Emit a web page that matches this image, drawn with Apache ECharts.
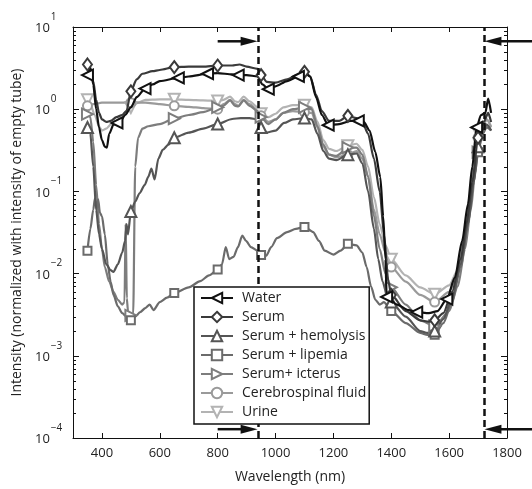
<!DOCTYPE html>
<html><head><meta charset="utf-8">
<script src="https://cdn.jsdelivr.net/npm/echarts@6/dist/echarts.min.js"></script>
<style>html,body{margin:0;padding:0;background:#fff}#c{width:532px;height:489px}</style>
</head><body><div id="c"></div>
<script>
// ---------- axis ticks ----------
const xTicks = [400, 600, 800, 1000, 1200, 1400, 1600, 1800];
const yMajor = [1e-4, 1e-3, 1e-2, 1e-1, 1, 10];
const yMinor = [];
for (let d = -4; d <= 0; d++) for (let m = 2; m <= 9; m++) yMinor.push(m * Math.pow(10, d));

// ---------- annotations ----------
const bandEdges = [940, 1720];
// [xStart, y, xEnd]
const arrows = [[800, 6.7, 938], [1900, 6.7, 1722], [800, 1.28e-4, 938], [1900, 1.28e-4, 1722]];

// ---------- series ----------
const legendNames = ['Water', 'Serum', 'Serum + hemolysis', 'Serum + lipemia', 'Serum+ icterus', 'Cerebrospinal fluid', 'Urine'];

const waterNm = [350,360,370,380,390,400,410,417,425,440,452,465,480,500,520,549,575,600,664,700,765,800,850,871,900,938,955,975,1000,1040,1079,1105,1120,1140,1160,1182,1220,1260,1286,1305,1325,1345,1362,1372,1380,1384,1420,1460,1488,1530,1560,1592,1620,1645,1665,1680,1695,1710,1725,1735,1745];
const waterVal = [2.6,3.2,2.0,1.0,0.6,0.42,0.35,0.34,0.5,0.65,0.68,0.72,0.85,1.05,1.4,1.78,2.0,2.2,2.4,2.5,2.7,2.75,2.65,2.6,2.6,2.5,2.0,1.75,1.9,2.2,2.5,2.7,2.5,1.4,0.85,0.64,0.66,0.72,0.72,0.7,0.55,0.3,0.15,0.05,0.015,0.0052,0.0042,0.0036,0.0034,0.0033,0.0035,0.0049,0.009,0.025,0.07,0.2,0.6,0.85,0.9,1.35,0.9];
const waterMarks = [350,452,549,664,765,871,975,1079,1182,1286,1384,1488,1592,1695];

const serumNm = [350,360,370,380,390,400,415,430,450,470,485,500,520,540,575,600,650,700,750,800,850,875,900,938,950,970,1000,1040,1075,1100,1120,1140,1160,1185,1220,1250,1280,1300,1320,1340,1360,1375,1390,1400,1450,1500,1530,1550,1580,1610,1640,1660,1680,1700,1720,1735,1745];
const serumVal = [3.5,3.1,2.2,1.3,0.9,0.75,0.7,0.72,0.8,0.85,0.95,1.65,2.3,2.7,2.9,3.0,3.25,3.3,3.3,3.4,3.4,3.5,3.3,3.1,2.6,2.15,2.1,2.3,2.6,2.85,2.5,1.5,0.95,0.72,0.72,0.83,0.78,0.7,0.5,0.25,0.1,0.03,0.008,0.0055,0.0035,0.0027,0.0026,0.0027,0.0033,0.006,0.015,0.04,0.13,0.45,0.7,0.9,0.7];

const hemoNm = [350,360,370,380,390,400,415,430,440,455,470,480,485,490,500,515,530,548,560,571,582,595,610,630,650,700,750,800,850,880,910,938,950,970,1000,1030,1060,1100,1125,1145,1165,1185,1210,1250,1280,1300,1320,1340,1355,1370,1385,1400,1450,1500,1525,1550,1580,1610,1640,1665,1685,1700,1715,1730,1745];
const hemoVal = [0.6,0.5,0.2,0.06,0.03,0.02,0.013,0.011,0.0105,0.013,0.018,0.025,0.04,0.03,0.057,0.075,0.095,0.12,0.15,0.19,0.14,0.25,0.32,0.37,0.45,0.52,0.58,0.66,0.76,0.78,0.78,0.75,0.6,0.52,0.55,0.68,0.75,0.78,0.75,0.5,0.31,0.25,0.24,0.28,0.29,0.22,0.1,0.035,0.015,0.008,0.0055,0.0045,0.003,0.002,0.0019,0.002,0.0028,0.005,0.013,0.04,0.13,0.35,0.55,0.65,0.55];

const lipNm = [350,360,370,376,382,387,393,400,410,420,430,440,455,470,485,500,515,532,550,565,578,600,625,650,700,740,770,800,815,828,840,855,870,885,898,915,938,950,968,985,1005,1040,1070,1100,1130,1150,1170,1200,1225,1250,1280,1300,1315,1330,1345,1360,1375,1390,1400,1450,1500,1525,1550,1580,1610,1640,1665,1685,1700,1715,1730,1745];
const lipVal = [0.019,0.035,0.06,0.083,0.06,0.08,0.055,0.05,0.03,0.013,0.008,0.0055,0.004,0.0033,0.003,0.0027,0.003,0.0034,0.0038,0.0042,0.0036,0.0045,0.0051,0.0058,0.0068,0.0081,0.0095,0.0112,0.013,0.021,0.015,0.016,0.021,0.029,0.025,0.021,0.019,0.0168,0.0165,0.021,0.027,0.032,0.035,0.037,0.032,0.025,0.019,0.017,0.019,0.023,0.022,0.018,0.012,0.007,0.0048,0.0042,0.0045,0.004,0.0035,0.0025,0.0019,0.0018,0.0018,0.0025,0.0045,0.012,0.04,0.13,0.3,0.5,0.6,0.55];

const ictNm = [350,360,370,380,390,400,410,425,440,455,470,478,482,486,490,500,508,515,525,540,560,600,650,700,750,800,820,843,860,871,890,910,938,950,975,1000,1027,1060,1100,1125,1145,1165,1185,1210,1250,1280,1300,1320,1340,1360,1380,1400,1450,1500,1550,1600,1630,1655,1675,1690,1700,1715,1730,1745];
const ictVal = [0.87,0.8,0.4,0.12,0.04,0.02,0.012,0.008,0.006,0.0048,0.0042,0.0045,0.04,0.005,0.0035,0.0031,0.0032,0.2,0.45,0.58,0.62,0.66,0.77,0.85,0.92,1.05,1.1,1.28,1.1,1.08,1.28,1.1,0.95,0.8,0.66,0.75,0.9,1.0,1.05,1.0,0.62,0.37,0.28,0.27,0.34,0.34,0.28,0.15,0.05,0.02,0.01,0.0068,0.0042,0.0027,0.0023,0.0035,0.007,0.02,0.06,0.17,0.3,0.5,0.65,0.55];

const csfNm = [350,370,400,450,500,550,600,650,700,750,800,820,843,860,871,890,910,938,950,975,1000,1027,1060,1100,1125,1145,1165,1185,1210,1250,1280,1300,1320,1340,1360,1380,1400,1450,1500,1550,1600,1630,1655,1675,1690,1700,1715,1730,1745];
const csfVal = [1.1,1.15,1.2,1.2,1.2,1.2,1.15,1.1,1.07,1.03,1.0,1.15,1.3,1.15,1.1,1.3,1.15,0.97,0.83,0.7,0.75,0.9,0.95,0.92,0.9,0.6,0.35,0.28,0.26,0.28,0.31,0.25,0.15,0.06,0.03,0.018,0.012,0.008,0.0055,0.0045,0.006,0.01,0.03,0.1,0.3,0.45,0.6,0.75,0.6];

const urineNm = [350,360,375,390,400,415,430,450,470,490,500,525,550,600,650,700,750,800,820,843,860,871,890,910,938,950,975,1000,1027,1060,1100,1125,1145,1165,1185,1210,1250,1280,1300,1320,1340,1360,1380,1400,1450,1500,1550,1600,1630,1655,1675,1690,1700,1715,1730,1745];
const urineVal = [1.3,1.15,0.85,0.62,0.55,0.58,0.65,0.72,0.85,0.98,1.05,1.2,1.3,1.32,1.32,1.3,1.28,1.26,1.3,1.42,1.25,1.22,1.42,1.25,1.06,0.88,0.8,0.88,1.05,1.12,1.12,1.05,0.7,0.42,0.33,0.31,0.36,0.38,0.32,0.2,0.085,0.04,0.022,0.015,0.0095,0.0068,0.0056,0.0072,0.011,0.03,0.1,0.33,0.52,0.65,0.75,0.62];

const sampleMarks = [350,500,650,800,950,1100,1250,1400,1550,1700];

const FONT = 'Open Sans';
const X_MIN = 300, X_MAX = 1800, Y_MIN = 1e-4, Y_MAX = 10;

function mkSeries(name, nm, val, marks, color, symbol, size, rotate, z) {
  return {
    name: name, type: 'line', xAxisIndex: 0, yAxisIndex: 0,
    data: nm.map((x, i) => [x, val[i]]),
    smooth: 0.25, smoothMonotone: 'x',
    symbol: symbol, symbolRotate: rotate, showAllSymbol: true,
    symbolSize: (v) => marks.indexOf(v[0]) >= 0 ? size : 0,
    lineStyle: { color: color, width: 2.2 },
    itemStyle: { color: color, borderWidth: 1.3 },
    z: z, animation: false
  };
}

const series = [
  mkSeries(legendNames[6], urineNm, urineVal, sampleMarks, '#b3b3b3', 'emptyTriangle', 11, 180, 2),
  mkSeries(legendNames[5], csfNm, csfVal, sampleMarks, '#9a9a9a', 'emptyCircle', 9, 0, 2),
  mkSeries(legendNames[4], ictNm, ictVal, sampleMarks, '#7d7d7d', 'emptyTriangle', 11, -90, 3),
  mkSeries(legendNames[3], lipNm, lipVal, sampleMarks, '#6b6b6b', 'emptyRect', 8, 0, 3),
  mkSeries(legendNames[2], hemoNm, hemoVal, sampleMarks, '#555555', 'emptyTriangle', 11, 0, 3),
  mkSeries(legendNames[1], serumNm, serumVal, sampleMarks, '#3a3a3a', 'emptyDiamond', [9, 12], 0, 4),
  mkSeries(legendNames[0], waterNm, waterVal, waterMarks, '#111111', 'emptyTriangle', 11, 90, 4),
  {
    name: 'bands', type: 'line', data: [], xAxisIndex: 0, yAxisIndex: 0,
    markLine: {
      silent: true, symbol: ['none', 'none'], label: { show: false },
      lineStyle: { color: '#111', width: 2.5, type: [7, 4] },
      data: bandEdges.map(x => ({ xAxis: x }))
    }, z: 6
  },
  {
    name: 'arrows', type: 'custom', xAxisIndex: 0, yAxisIndex: 0, clip: false, silent: true, z: 7,
    data: arrows,
    renderItem: function (params, api) {
      const p0 = api.coord([api.value(0), api.value(1)]);
      const p1 = api.coord([api.value(2), api.value(1)]);
      const dir = Math.sign(p1[0] - p0[0]);
      const headLen = 17, headW = 4.5;
      const base = p1[0] - dir * headLen;
      return { type: 'group', children: [
        { type: 'line', shape: { x1: p0[0], y1: p0[1], x2: base + dir, y2: p1[1] }, style: { stroke: '#111', lineWidth: 2.5 } },
        { type: 'polygon', shape: { points: [[p1[0], p1[1]], [base, p1[1] - headW], [base, p1[1] + headW]] }, style: { fill: '#111' } }
      ] };
    }
  },
  {
    // minor log ticks on left and right frame, positioned through the axis scales
    name: 'minorTicks', type: 'custom', xAxisIndex: 0, yAxisIndex: 0, clip: false, silent: true, z: 8,
    data: yMinor.map(v => [X_MIN, v]),
    renderItem: function (params, api) {
      const pl = api.coord([X_MIN, api.value(1)]);
      const pr = api.coord([X_MAX, api.value(1)]);
      const st = { stroke: '#111', lineWidth: 1 };
      const y = Math.round(pl[1]) + 0.5;
      return { type: 'group', children: [
        { type: 'line', shape: { x1: pl[0], y1: y, x2: pl[0] + 3, y2: y }, style: st },
        { type: 'line', shape: { x1: pr[0], y1: y, x2: pr[0] - 3, y2: y }, style: st }
      ] };
    }
  }
];

const axisLine = { show: true, onZero: false, lineStyle: { color: '#111', width: 1 } };
const chart = echarts.init(document.getElementById('c'), null, { renderer: 'canvas' });
chart.setOption({
  animation: false,
  backgroundColor: '#fff',
  grid: { left: 73, right: 25, top: 27, bottom: 47, containLabel: false },
  legend: {
    data: legendNames, orient: 'vertical', left: 194, top: 287,
    itemWidth: 32, itemHeight: 13, itemGap: 5,
    padding: [4, 3, 5, 6],
    borderColor: '#111', borderWidth: 1.5, backgroundColor: '#fff',
    textStyle: { fontFamily: FONT, fontSize: 14, color: '#222', padding: [0, 0, 0, 4] },
    z: 10
  },
  xAxis: [
    { type: 'value', min: X_MIN, max: X_MAX, position: 'bottom',
      axisLine: axisLine, splitLine: { show: false },
      axisTick: { inside: true, length: 5, customValues: xTicks, lineStyle: { color: '#111' } },
      axisLabel: { customValues: xTicks, formatter: v => String(v), fontFamily: FONT, fontSize: 13, color: '#222', margin: 9 },
      name: 'Wavelength (nm)', nameLocation: 'middle', nameGap: 32,
      nameTextStyle: { fontFamily: FONT, fontSize: 14, color: '#222' } },
    { type: 'value', min: X_MIN, max: X_MAX, position: 'top',
      axisLine: axisLine, splitLine: { show: false },
      axisTick: { inside: true, length: 5, customValues: xTicks, lineStyle: { color: '#111' } },
      axisLabel: { show: false } }
  ],
  yAxis: [
    { type: 'log', logBase: 10, min: Y_MIN, max: Y_MAX, position: 'left',
      axisLine: axisLine, splitLine: { show: false },
      axisTick: { inside: true, length: 6, lineStyle: { color: '#111' } },
      axisLabel: {
        align: 'left', margin: 38, fontFamily: FONT, color: '#222',
        formatter: function (v) {
          const e = Math.round(Math.log10(v));
          return '{b|10}{s|' + (e < 0 ? '\u2212' + (-e) : String(e)) + '}';
        },
        rich: {
          b: { fontFamily: FONT, fontSize: 13, color: '#222', padding: [3, 0, 0, 0] },
          s: { fontFamily: FONT, fontSize: 10, color: '#222', padding: [0, 0, 20, 1] }
        }
      },
      name: 'Intensity (normalized with intensity of empty tube)', nameLocation: 'middle', nameGap: 48,
      nameTextStyle: { fontFamily: FONT, fontSize: 14, color: '#222' } },
    { type: 'log', logBase: 10, min: Y_MIN, max: Y_MAX, position: 'right',
      axisLine: axisLine, splitLine: { show: false },
      axisTick: { inside: true, length: 6, lineStyle: { color: '#111' } },
      axisLabel: { show: false } }
  ],
  series: series
});
</script>
</body></html>
